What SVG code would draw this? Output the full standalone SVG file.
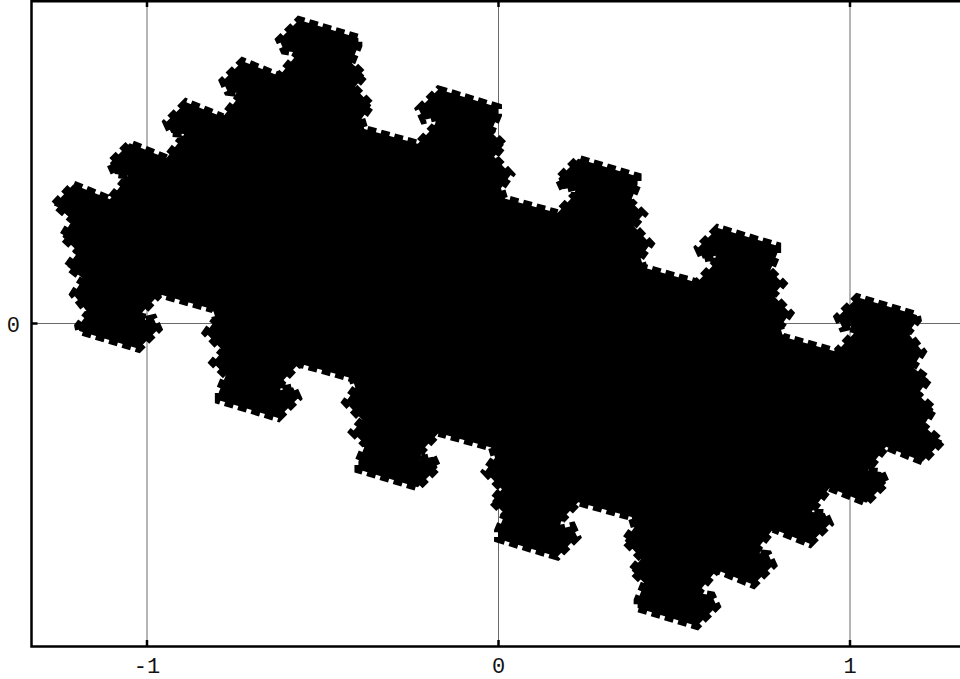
<svg xmlns="http://www.w3.org/2000/svg" xmlns:xlink="http://www.w3.org/1999/xlink" width="960" height="679" viewBox="0 0 960 679">
<style>
.grid{stroke:#6a6a6a;stroke-width:1;fill:none}
.frame{stroke:#000;stroke-width:2.5;fill:none}
.tick{stroke:#000;stroke-width:2.5}
.lbl{font-family:"Liberation Mono","DejaVu Sans Mono",monospace;font-size:22px;fill:#111}
.frac{fill:#000;stroke:#000;stroke-width:8;stroke-dasharray:9 5;stroke-linejoin:miter}
</style>
<defs>
<path id="half" d="M50,203 L69,183 L106,198 L122,178 L124,174 L111,172.5 L106,161.5 L126,141.5 L163,156.5 L179,136 L181,132 L168,131 L163,120 L183,100 L220,115 L236,95 L238,91 L225,89.5 L220,78.5 L240,58.5 L277,73.5 L293,54 L295,50 L282,48 L277,37 L297,17 L357,35 L357,43 L350,60 L363,73 L353,85 L370,103 L360,117 L363,127 L417,142 L434,124 L436,115 L423,118 L418,107 L438,87 L498,105 L498,113 L491,130 L504,143 L494,155 L511,173 L501,187 L504,197 L558,212 L575,194 L577,185 L564,188 L559,177 L579,157 L639,175 L639,183 L632,200 L645,213 L635,225 L652,243 L642,257 L645,267 L699,282 L716,264 L718,255 L705,258 L700,247 L720,227 L780,245 L780,253 L773,270 L786,283 L776,295 L793,313 L783,327 L786,337 L840,352 L857,334 L859,325 L846,328 L841,317 L861,297 L921,315 L922,320 L912,333 L927,352 L917,368 L933,380 L922,395 L938,410 L928,427 L946,443"/>
</defs>
<rect width="960" height="679" fill="#fff"/>
<g id="grid">
<line class="grid" x1="147" y1="1" x2="147" y2="646"/>
<line class="grid" x1="498.5" y1="1" x2="498.5" y2="646"/>
<line class="grid" x1="850" y1="1" x2="850" y2="646"/>
<line class="grid" x1="32" y1="323.5" x2="960" y2="323.5"/>
</g>
<g id="fractal" transform="translate(498 323) scale(0.99) translate(-498 -323)">
<use xlink:href="#half" class="frac"/>
<use xlink:href="#half" class="frac" transform="rotate(180 498 323)"/>
<line x1="50" y1="203" x2="946" y2="443" stroke="#000" stroke-width="3"/>
</g>
<g id="axes">
<path class="frame" d="M960,1.2 L31.5,1.2 L31.5,646.5 L960,646.5"/>
<line class="tick" x1="147" y1="640" x2="147" y2="646"/>
<line class="tick" x1="498.5" y1="640" x2="498.5" y2="646"/>
<line class="tick" x1="850" y1="640" x2="850" y2="646"/>
<line class="tick" x1="147" y1="1" x2="147" y2="7"/>
<line class="tick" x1="498.5" y1="1" x2="498.5" y2="7"/>
<line class="tick" x1="850" y1="1" x2="850" y2="7"/>
<line class="tick" x1="31.5" y1="323.5" x2="37.5" y2="323.5"/>
</g>
<g id="labels">
<text class="lbl" x="20" y="332" text-anchor="end">0</text>
<text class="lbl" x="147" y="673" text-anchor="middle">-1</text>
<text class="lbl" x="498.5" y="673" text-anchor="middle">0</text>
<text class="lbl" x="850" y="673" text-anchor="middle">1</text>
</g>
</svg>
